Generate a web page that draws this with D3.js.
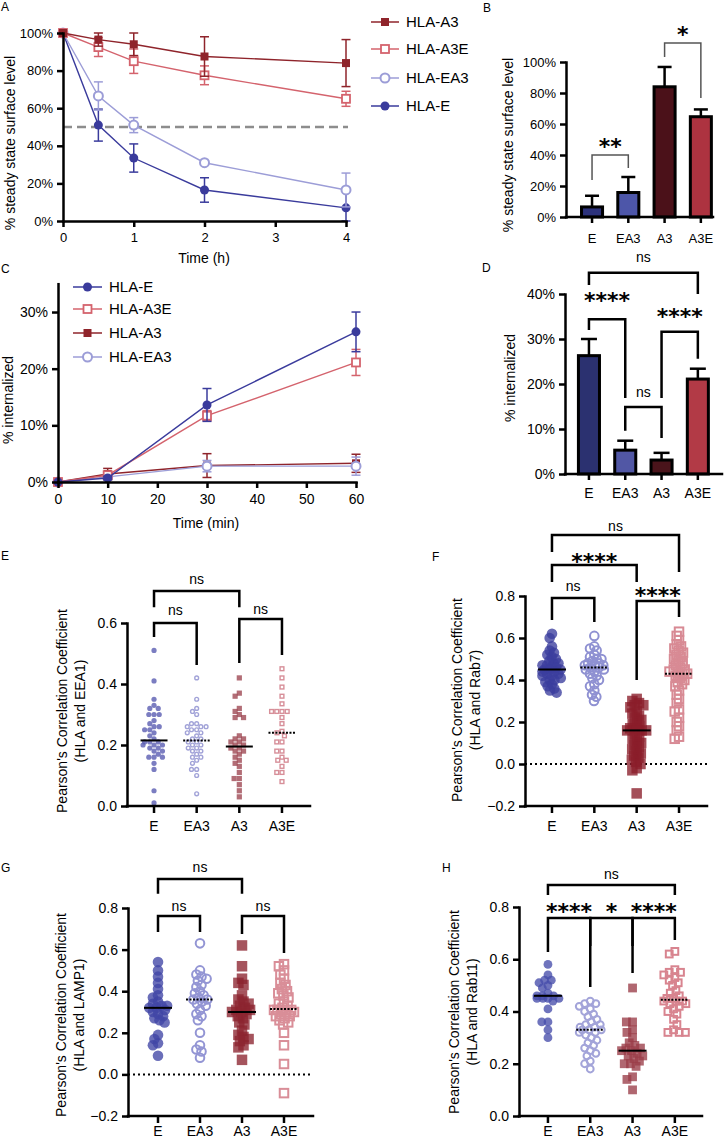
<!DOCTYPE html>
<html><head><meta charset="utf-8">
<script src="https://cdn.jsdelivr.net/npm/d3@7"></script>
<style>
body{margin:0;background:#fff}
svg{display:block;background:#fff}
</style>
</head><body>
<svg id="c" width="725" height="1142"></svg>
<script>
// ================= DATA =================
const groups = ["E", "EA3", "A3", "A3E"];

// Panel A: surface level over time (h)
const timeA = [0, 0.5, 1, 2, 4];
const surfA3 = [100, 96.5, 94, 87.5, 84];
const surfA3err = [0, 3.5, 6, 10.5, 12.5];
const surfA3E = [100, 92.5, 85, 77.5, 65];
const surfA3Eerr = [0, 5, 6.5, 5, 4];
const surfEA3 = [100, 66.5, 51, 31, 16.5];
const surfEA3err = [0, 7.5, 4, 1, 9];
const surfE = [100, 51, 33.5, 16.5, 7];
const surfEerr = [0, 8.5, 7.5, 6.5, 9.5];

// Panel B: steady state surface level at 4 h
const barB = [6.5, 15.8, 84, 64.7];
const barBerr = [7.2, 10, 12.8, 4.7];

// Panel C: % internalized over time (min)
const timeC = [0, 10, 30, 60];
const intE = [0, 0.7, 13.6, 26.5];
const intEerr = [0, 0.3, 2.9, 3.5];
const intA3E = [0, 1.2, 11.7, 21.1];
const intA3Eerr = [0, 0.5, 0.9, 2.3];
const intA3 = [0, 1.4, 2.9, 3.3];
const intA3err = [0, 1.0, 2.1, 1.6];
const intEA3 = [0, 0.9, 2.8, 2.8];
const intEA3err = [0, 0.4, 1.0, 1.6];

// Panel D: % internalized at 60 min
const barD = [26.3, 5.3, 3.1, 21.1];
const barDerr = [3.7, 2.1, 1.6, 2.3];

// Panel E: Pearson (HLA and EEA1)
const eea1_E = [0.51,0.41,0.35,0.33,0.32,0.32,0.30,0.30,0.30,0.28,0.27,0.26,0.26,0.25,0.25,0.24,0.23,0.22,0.21,0.21,0.21,0.20,0.20,0.20,0.19,0.19,0.18,0.18,0.17,0.16,0.16,0.16,0.14,0.12,0.05,0.01];
const eea1_EA3 = [0.42,0.35,0.32,0.31,0.30,0.27,0.27,0.26,0.26,0.26,0.25,0.25,0.24,0.24,0.23,0.22,0.22,0.21,0.21,0.20,0.20,0.19,0.19,0.18,0.18,0.17,0.16,0.16,0.15,0.14,0.12,0.12,0.10,0.04];
const eea1_A3 = [0.42,0.37,0.36,0.32,0.31,0.30,0.29,0.29,0.23,0.22,0.22,0.21,0.21,0.20,0.20,0.19,0.19,0.18,0.18,0.17,0.16,0.15,0.14,0.13,0.11,0.09,0.09,0.07,0.05,0.03];
const eea1_A3E = [0.45,0.42,0.39,0.36,0.335,0.31,0.31,0.31,0.31,0.29,0.27,0.245,0.24,0.23,0.21,0.21,0.18,0.18,0.16,0.15,0.15,0.13,0.11,0.11,0.08];

// Panel F: Pearson (HLA and Rab7)
const rab7_E = [0.62,0.60,0.56,0.54,0.53,0.52,0.51,0.50,0.49,0.48,0.48,0.47,0.47,0.46,0.46,0.45,0.45,0.45,0.44,0.44,0.43,0.43,0.42,0.42,0.41,0.40,0.40,0.39,0.38,0.37,0.36,0.35,0.34];
const rab7_EA3 = [0.61,0.56,0.55,0.54,0.52,0.51,0.50,0.50,0.49,0.48,0.48,0.47,0.47,0.47,0.46,0.46,0.45,0.45,0.44,0.43,0.42,0.41,0.40,0.38,0.37,0.35,0.33,0.32,0.30];
const rab7_A3 = [0.31,0.30,0.29,0.28,0.28,0.27,0.25,0.24,0.23,0.22,0.21,0.20,0.19,0.18,0.17,0.17,0.16,0.16,0.16,0.16,0.14,0.13,0.12,0.11,0.10,0.09,0.08,0.07,0.06,0.05,0.04,0.03,0.02,0.01,0.00,-0.02,-0.03,-0.14];
const rab7_A3E = [0.63,0.61,0.59,0.57,0.56,0.55,0.54,0.53,0.52,0.51,0.50,0.49,0.48,0.47,0.46,0.45,0.45,0.44,0.44,0.43,0.43,0.42,0.41,0.40,0.39,0.38,0.37,0.35,0.33,0.31,0.29,0.26,0.25,0.22,0.20,0.18,0.16,0.13,0.12];

// Panel G: Pearson (HLA and LAMP1)
const lamp1_E = [0.54,0.50,0.47,0.44,0.41,0.38,0.37,0.35,0.34,0.33,0.33,0.32,0.32,0.31,0.30,0.29,0.28,0.27,0.26,0.25,0.19,0.17,0.15,0.14,0.09];
const lamp1_EA3 = [0.63,0.50,0.48,0.47,0.46,0.45,0.43,0.42,0.40,0.39,0.38,0.37,0.36,0.36,0.35,0.34,0.33,0.31,0.29,0.28,0.26,0.20,0.14,0.12,0.11,0.08];
const lamp1_A3 = [0.62,0.52,0.46,0.44,0.43,0.38,0.36,0.35,0.34,0.33,0.32,0.31,0.31,0.30,0.30,0.29,0.28,0.27,0.25,0.24,0.21,0.19,0.18,0.17,0.16,0.14,0.13,0.07];
const lamp1_A3E = [0.53,0.52,0.50,0.48,0.46,0.44,0.43,0.41,0.40,0.39,0.38,0.37,0.35,0.34,0.33,0.32,0.31,0.31,0.31,0.30,0.30,0.29,0.28,0.28,0.27,0.26,0.25,0.24,0.20,0.14,0.05,-0.09];

// Panel H: Pearson (HLA and Rab11)
const rab11_E = [0.58,0.54,0.52,0.52,0.51,0.50,0.49,0.47,0.46,0.46,0.46,0.45,0.45,0.45,0.45,0.44,0.41,0.36,0.36,0.33,0.30];
const rab11_EA3 = [0.44,0.43,0.43,0.42,0.41,0.40,0.39,0.38,0.37,0.36,0.35,0.35,0.34,0.34,0.33,0.33,0.33,0.32,0.32,0.31,0.30,0.29,0.28,0.27,0.26,0.25,0.24,0.23,0.21,0.20,0.18];
const rab11_A3 = [0.49,0.36,0.36,0.33,0.32,0.30,0.28,0.27,0.26,0.26,0.25,0.25,0.24,0.23,0.23,0.22,0.21,0.20,0.20,0.19,0.15,0.14,0.10];
const rab11_A3E = [0.63,0.62,0.56,0.55,0.55,0.54,0.53,0.52,0.51,0.50,0.48,0.47,0.46,0.45,0.45,0.44,0.44,0.44,0.43,0.43,0.42,0.41,0.40,0.39,0.37,0.35,0.33,0.32,0.32,0.32];

// Significance annotations (pairs, bracket levels in data units, label)
const sigB = [
  {a:"E", b:"EA3", h:40, la:23.9, lb:31.6, label:"**", ly:48.4},
  {a:"A3", b:"A3E", h:112.3, la:103.2, lb:76.8, label:"*", ly:120.6}
];
const sigD = [
  {a:"E", b:"A3E", h:44.7, la:42, lb:40, label:"ns", ly:48},
  {a:"E", b:"EA3", h:34.4, la:32, lb:16.9, label:"****", ly:39.6},
  {a:"EA3", b:"A3", h:14.9, la:9.6, lb:8.0, label:"ns", ly:18},
  {a:"A3", b:"A3E", h:31.6, la:16.9, lb:25.6, label:"****", ly:36}
];
const sigE = [
  {a:"E", b:"A3", h:0.705, la:0.652, lb:0.652, label:"ns", ly:0.741},
  {a:"E", b:"EA3", h:0.6, la:0.554, lb:0.462, label:"ns", ly:0.639},
  {a:"A3", b:"A3E", h:0.613, la:0.469, lb:0.495, label:"ns", ly:0.643}
];
const sigF = [
  {a:"E", b:"A3E", h:1.09, la:1.01, lb:0.914, label:"ns", ly:1.129},
  {a:"E", b:"A3", h:0.948, la:0.867, lb:0.867, label:"****", ly:0.986},
  {a:"E", b:"EA3", h:0.79, la:0.686, lb:0.676, label:"ns", ly:0.843},
  {a:"A3", b:"A3E", h:0.776, la:0.4, lb:0.7, label:"****", ly:0.824}
];
const sigG = [
  {a:"E", b:"A3", h:0.94, la:0.868, lb:0.868, label:"ns", ly:0.992},
  {a:"E", b:"EA3", h:0.762, la:0.685, lb:0.685, label:"ns", ly:0.805},
  {a:"A3", b:"A3E", h:0.762, la:0.675, lb:0.584, label:"ns", ly:0.805}
];
const sigH = [
  {a:"E", b:"A3E", h:0.884, la:0.846, lb:0.846, label:"ns", ly:0.922},
  {a:"E", b:"EA3", h:0.758, la:0.628, lb:0.494, label:"****", ly:0.8},
  {a:"EA3", b:"A3", h:0.758, la:0.651, lb:0.651, label:"*", ly:0.8},
  {a:"A3", b:"A3E", h:0.758, la:0.547, lb:0.674, label:"****", ly:0.8}
];

// ================= DRAWING =================
const FONT = '"Liberation Sans", Arial, Helvetica, sans-serif';
const STARFONT = '"DejaVu Sans", sans-serif';
const svg = d3.select("#c");

function axisLeft(y, ticks, fmt, x0, fs, sw, tl, pad) {
  const ax = svg.append("g").attr("transform", `translate(${x0},0)`)
    .call(d3.axisLeft(y).tickValues(ticks).tickFormat(fmt).tickSize(tl).tickSizeOuter(0).tickPadding(pad));
  ax.attr("font-size", fs).attr("font-family", FONT);
  ax.select(".domain").attr("stroke", "#000").attr("stroke-width", sw).attr("stroke-linecap", "square");
  ax.selectAll(".tick line").attr("stroke", "#000").attr("stroke-width", sw);
  ax.selectAll(".tick text").attr("fill", "#000");
  return ax;
}
function axisBottomLinear(x, ticks, y0, fs, sw, tl, pad) {
  const ax = svg.append("g").attr("transform", `translate(0,${y0})`)
    .call(d3.axisBottom(x).tickValues(ticks).tickFormat(d3.format("d")).tickSize(tl).tickSizeOuter(0).tickPadding(pad));
  ax.attr("font-size", fs).attr("font-family", FONT);
  ax.select(".domain").attr("stroke", "#000").attr("stroke-width", sw).attr("stroke-linecap", "square");
  ax.selectAll(".tick line").attr("stroke", "#000").attr("stroke-width", sw);
  ax.selectAll(".tick text").attr("fill", "#000");
  return ax;
}
function axisBottomBand(x, y0, x0, x1, fs, sw, tl, pad) {
  const ax = svg.append("g").attr("transform", `translate(0,${y0})`)
    .call(d3.axisBottom(x).tickSize(tl).tickPadding(pad));
  ax.attr("font-size", fs).attr("font-family", FONT);
  ax.select(".domain").remove();
  ax.selectAll(".tick line").attr("stroke", "#000").attr("stroke-width", sw);
  ax.selectAll(".tick text").attr("fill", "#000");
  svg.append("line").attr("x1", x0).attr("x2", x1).attr("y1", y0).attr("y2", y0)
    .attr("stroke", "#000").attr("stroke-width", sw).attr("stroke-linecap", "square");
}
function text(x, y, s, fs, opts = {}) {
  const t = svg.append("text").attr("x", x).attr("y", y).text(s)
    .attr("font-size", fs).attr("font-family", opts.font || FONT).attr("fill", "#000")
    .attr("text-anchor", opts.anchor || "start");
  if (opts.bold) t.attr("font-weight", "bold");
  if (opts.rot) t.attr("transform", `rotate(-90,${x},${y})`);
  return t;
}
function marker(g, cx, cy, m) {
  if (m.shape === "circle") {
    g.append("circle").attr("cx", cx).attr("cy", cy).attr("r", m.size / 2)
      .attr("fill", m.filled ? m.color : (m.bg || "none"))
      .attr("fill-opacity", m.filled ? (m.op || 1) : 1)
      .attr("stroke", m.filled ? "none" : m.color).attr("stroke-width", m.sw || 1.5);
  } else {
    g.append("rect").attr("x", cx - m.size / 2).attr("y", cy - m.size / 2)
      .attr("width", m.size).attr("height", m.size)
      .attr("fill", m.filled ? m.color : (m.bg || "none"))
      .attr("fill-opacity", m.filled ? (m.op || 1) : 1)
      .attr("stroke", m.filled ? "none" : m.color).attr("stroke-width", m.sw || 1.5);
  }
}

// ---------- line panels ----------
function linePanel(o) {
  const x = d3.scaleLinear(o.xDom, o.xRange);
  const y = d3.scaleLinear(o.yDom, o.yRange);
  if (o.refLine !== undefined) {
    svg.append("line").attr("x1", o.xRange[0]).attr("x2", o.xRange[1] + 2)
      .attr("y1", y(o.refLine)).attr("y2", y(o.refLine))
      .attr("stroke", "#8d8d8d").attr("stroke-width", 2.5).attr("stroke-dasharray", "9,5");
  }
  const g = svg.append("g");
  o.series.forEach(s => {
    const pts = o.times.map((t, i) => ({t, v: s.vals[i], e: s.err[i]}));
    const sg = g.append("g");
    pts.forEach(p => {
      if (p.e > 0) {
        const lo = y(Math.max(o.yDom[0], p.v - p.e)), hi = y(p.v + p.e), cx = x(p.t);
        sg.append("line").attr("x1", cx).attr("x2", cx).attr("y1", lo).attr("y2", hi)
          .attr("stroke", s.m.color).attr("stroke-width", 1.5);
        [lo, hi].forEach(yy => sg.append("line").attr("x1", cx - o.cap / 2).attr("x2", cx + o.cap / 2)
          .attr("y1", yy).attr("y2", yy).attr("stroke", s.m.color).attr("stroke-width", 1.5));
      }
    });
    sg.append("path").datum(pts).attr("fill", "none").attr("stroke", s.m.color).attr("stroke-width", 1.4)
      .attr("d", d3.line().x(d => x(d.t)).y(d => y(d.v)));
    pts.forEach(p => marker(sg, x(p.t), y(p.v), s.m));
  });
  axisLeft(y, o.yTicks, d => d + "%", o.xRange[0], o.tfs, 2.5, 6, 4);
  axisBottomLinear(x, o.xTicks, o.yRange[0], o.tfs, 2.5, 6, o.xpad);
  // legend
  o.legend.forEach((s, i) => {
    const ly = o.legY[i];
    svg.append("line").attr("x1", o.legX).attr("x2", o.legX + o.legW).attr("y1", ly).attr("y2", ly)
      .attr("stroke", s.m.color).attr("stroke-width", 1.5);
    marker(svg, o.legX + o.legW / 2, ly, s.m);
    text(o.legX + o.legW + 7, ly + o.lfs * 0.36, s.name, o.lfs);
  });
}

const mA3 = {shape: "square", filled: true, color: "#8f242b", size: 8};
const mA3E = {shape: "square", filled: false, color: "#d4636d", size: 8, sw: 1.8, bg: "#fff"};
const mEA3 = {shape: "circle", filled: false, color: "#9c9dd7", size: 9, sw: 2, bg: "#fff"};
const mE = {shape: "circle", filled: true, color: "#3a3b9c", size: 9};

linePanel({
  times: timeA, xDom: [0, 4], xRange: [63, 346], yDom: [0, 100], yRange: [221, 33],
  yTicks: [0, 20, 40, 60, 80, 100], xTicks: [0, 1, 2, 3, 4], tfs: 13, xpad: 6, cap: 9, refLine: 50,
  series: [
    {name: "HLA-E", vals: surfE, err: surfEerr, m: mE},
    {name: "HLA-EA3", vals: surfEA3, err: surfEA3err, m: mEA3},
    {name: "HLA-A3E", vals: surfA3E, err: surfA3Eerr, m: mA3E},
    {name: "HLA-A3", vals: surfA3, err: surfA3err, m: mA3}
  ],
  legend: [
    {name: "HLA-A3", m: mA3}, {name: "HLA-A3E", m: mA3E},
    {name: "HLA-EA3", m: mEA3}, {name: "HLA-E", m: mE}
  ],
  legX: 371, legW: 28, legY: [22, 49, 78, 106], lfs: 15
});
text(204, 263, "Time (h)", 14, {anchor: "middle"});
text(15, 143, "% steady state surface level", 14, {anchor: "middle", rot: true});

linePanel({
  times: timeC, xDom: [0, 60], xRange: [58, 356], yDom: [0, 35], yRange: [482, 283.7],
  yTicks: [0, 10, 20, 30], xTicks: [0, 10, 20, 30, 40, 50, 60], tfs: 14, xpad: 6, cap: 9,
  series: [
    {name: "HLA-A3", vals: intA3, err: intA3err, m: mA3},
    {name: "HLA-EA3", vals: intEA3, err: intEA3err, m: mEA3},
    {name: "HLA-A3E", vals: intA3E, err: intA3Eerr, m: mA3E},
    {name: "HLA-E", vals: intE, err: intEerr, m: mE}
  ],
  legend: [
    {name: "HLA-E", m: mE}, {name: "HLA-A3E", m: mA3E},
    {name: "HLA-A3", m: mA3}, {name: "HLA-EA3", m: mEA3}
  ],
  legX: 73, legW: 29, legY: [287, 309, 333, 357], lfs: 15
});
text(206, 528, "Time (min)", 14, {anchor: "middle"});
text(13, 400, "% internalized", 14, {anchor: "middle", rot: true});

// ---------- significance brackets ----------
function brackets(list, xc, y, st) {
  list.forEach(b => {
    const xa = xc(b.a), xb = xc(b.b);
    svg.append("path").attr("fill", "none").attr("stroke", st.color).attr("stroke-width", st.sw)
      .attr("stroke-linejoin", "miter")
      .attr("d", `M${xa},${y(b.la)}V${y(b.h)}H${xb}V${y(b.lb)}`);
    const mx = (xa + xb) / 2, my = y(b.ly);
    if (b.label === "ns") {
      text(mx, my + st.nsfs * 0.27, "ns", st.nsfs, {anchor: "middle"});
    } else {
      text(mx, my + st.starfs * 0.56, b.label, st.starfs, {anchor: "middle", bold: true, font: STARFONT});
    }
  });
}

// ---------- bar panels ----------
function barPanel(o) {
  const x = d3.scaleBand(groups, o.band).paddingInner(0.42).paddingOuter(0.21);
  const y = d3.scaleLinear(o.yDom, o.yRange);
  const xc = d => x(d) + x.bandwidth() / 2;
  const g = svg.append("g");
  groups.forEach((k, i) => {
    const cx = xc(k), top = y(o.vals[i] + o.err[i]);
    g.append("line").attr("x1", cx).attr("x2", cx).attr("y1", y(o.vals[i])).attr("y2", top)
      .attr("stroke", "#000").attr("stroke-width", 2.5);
    g.append("line").attr("x1", cx - o.cap / 2).attr("x2", cx + o.cap / 2).attr("y1", top).attr("y2", top)
      .attr("stroke", "#000").attr("stroke-width", 2.5);
    g.append("rect").attr("x", x(k)).attr("y", y(o.vals[i])).attr("width", x.bandwidth())
      .attr("height", y(0) - y(o.vals[i])).attr("fill", o.colors[i])
      .attr("stroke", "#000").attr("stroke-width", 3);
  });
  axisLeft(y, o.yTicks, d => d + "%", o.axisX, o.tfs, 2.5, 6, 4);
  axisBottomBand(x, o.yRange[0], o.axisX, o.axisEnd, o.tfs, 2.5, 6, o.xpad);
  brackets(o.sig, xc, y, o.st);
}

barPanel({
  band: [573.9, 719], yDom: [0, 100], yRange: [217, 62], vals: barB, err: barBerr,
  colors: ["#2c327c", "#4d56a9", "#4b1119", "#ad3340"], axisX: 566, axisEnd: 713,
  yTicks: [0, 20, 40, 60, 80, 100], tfs: 13, xpad: 11, cap: 14, sig: sigB,
  st: {color: "#555", sw: 1.5, nsfs: 13, starfs: 22}
});
text(513, 145, "% steady state surface level", 14, {anchor: "middle", rot: true});

barPanel({
  band: [570.8, 716], yDom: [0, 40], yRange: [474, 294], vals: barD, err: barDerr,
  colors: ["#2b3170", "#5157a5", "#4a141b", "#b23a46"], axisX: 565, axisEnd: 722,
  yTicks: [0, 10, 20, 30, 40], tfs: 14, xpad: 8, cap: 16, sig: sigD,
  st: {color: "#000", sw: 2.5, nsfs: 14, starfs: 22}
});
text(515, 378, "% internalized", 14, {anchor: "middle", rot: true});

// ---------- scatter panels ----------
function swarm(vals, y, sep, maxHalf) {
  const pts = vals.map(v => ({v, py: y(v)})).sort((a, b) => a.py - b.py);
  const placed = [];
  pts.forEach(p => {
    const cands = [0];
    placed.forEach(q => {
      const dy = Math.abs(q.py - p.py);
      if (dy < sep) { const dx = Math.sqrt(sep * sep - dy * dy); cands.push(q.dx + dx, q.dx - dx); }
    });
    cands.sort((a, b) => Math.abs(a) - Math.abs(b) || a - b);
    let best = null;
    for (const c of cands) {
      if (Math.abs(c) > maxHalf + 1e-6) continue;
      if (placed.every(q => (q.dx - c) ** 2 + (q.py - p.py) ** 2 >= sep * sep - 1e-3)) { best = c; break; }
    }
    if (best === null) {
      let bestScore = Infinity;
      for (let c = -maxHalf; c <= maxHalf; c += 1) {
        const s = d3.sum(placed, q => Math.max(0, sep - Math.hypot(q.dx - c, q.py - p.py)));
        if (s < bestScore) { bestScore = s; best = c; }
      }
    }
    p.dx = best;
    placed.push(p);
  });
  return placed;
}

function scatterPanel(o) {
  const x = d3.scaleBand(groups, o.band).paddingInner(0).paddingOuter(0);
  const xc = d => x(d) + x.bandwidth() / 2;
  const y = d3.scaleLinear(o.yDom, o.yRange);
  if (o.zero) {
    svg.append("line").attr("x1", o.axisX).attr("x2", o.axisEnd).attr("y1", y(0)).attr("y2", y(0))
      .attr("stroke", "#000").attr("stroke-width", 2).attr("stroke-dasharray", "2,3");
  }
  groups.forEach((k, i) => {
    const g = svg.append("g");
    const pts = swarm(o.data[i], y, o.sep, o.maxHalf);
    pts.forEach(p => marker(g, xc(k) + p.dx, p.py, o.marks[i]));
    const med = d3.median(o.data[i]);
    svg.append("line").attr("x1", xc(k) - o.medW / 2).attr("x2", xc(k) + o.medW / 2)
      .attr("y1", y(med)).attr("y2", y(med)).attr("stroke", "#000").attr("stroke-width", 2)
      .attr("stroke-dasharray", o.marks[i].filled ? null : "2,1.5");
  });
  axisLeft(y, o.yTicks, d3.format(".1f"), o.axisX, 14, 2.5, 6, 4);
  axisBottomBand(x, o.yRange[0], o.axisX, o.axisEnd, 14, 2.5, 7, o.xpad);
  brackets(o.sig, xc, y, {color: "#000", sw: 2.5, nsfs: 14, starfs: 22});
  text(o.titleX, o.titleY, "Pearson's Correlation Coefficient", 14, {anchor: "middle", rot: true});
  text(o.titleX + 18, o.titleY, o.title2, 14, {anchor: "middle", rot: true});
}

function marks(r, sq, sw, cE, cEA3, cA3, cA3E) {
  return [
    {shape: "circle", filled: true, color: cE, size: 2 * r, op: 0.78},
    {shape: "circle", filled: false, color: cEA3, size: 2 * r - sw, sw: sw},
    {shape: "square", filled: true, color: cA3, size: sq, op: 0.78},
    {shape: "square", filled: false, color: cA3E, size: sq - sw, sw: sw}
  ];
}

scatterPanel({
  band: [132.7, 303.3], yDom: [0, 0.6], yRange: [806, 623], yTicks: [0, 0.2, 0.4, 0.6],
  axisX: 127, axisEnd: 310, data: [eea1_E, eea1_EA3, eea1_A3, eea1_A3E],
  marks: marks(2.6, 5.2, 1.4, "#5658b0", "#a2a3d8", "#9c4450", "#d78f99"),
  sep: 5.2, maxHalf: 11, medW: 27, xpad: 8, sig: sigE, zero: false,
  titleX: 67, titleY: 711, title2: "(HLA and EEA1)"
});
scatterPanel({
  band: [530.8, 700.2], yDom: [-0.2, 0.8], yRange: [806, 596], yTicks: [-0.2, 0, 0.2, 0.4, 0.6, 0.8],
  axisX: 525, axisEnd: 707, data: [rab7_E, rab7_EA3, rab7_A3, rab7_A3E],
  marks: marks(5.3, 10.5, 2, "#3b3d9e", "#8f91d2", "#8a1e2a", "#d88a94"),
  sep: 4.8, maxHalf: 9.5, medW: 28, xpad: 8, sig: sigF, zero: true,
  titleX: 462, titleY: 700, title2: "(HLA and Rab7)"
});
scatterPanel({
  band: [137, 305], yDom: [-0.2, 0.8], yRange: [1116, 908], yTicks: [-0.2, 0, 0.2, 0.4, 0.6, 0.8],
  axisX: 128, axisEnd: 313, data: [lamp1_E, lamp1_EA3, lamp1_A3, lamp1_A3E],
  marks: marks(5.3, 10.5, 2, "#4045a5", "#9395d4", "#8c2430", "#d98e98"),
  sep: 5.5, maxHalf: 10, medW: 28, xpad: 3, sig: sigG, zero: true,
  titleX: 66, titleY: 1015, title2: "(HLA and LAMP1)"
});
scatterPanel({
  band: [526.8, 696], yDom: [0, 0.8], yRange: [1116, 907], yTicks: [0, 0.2, 0.4, 0.6, 0.8],
  axisX: 519, axisEnd: 702, data: [rab11_E, rab11_EA3, rab11_A3, rab11_A3E],
  marks: marks(4.4, 8.8, 2, "#474dab", "#a3a4d9", "#9a3c48", "#d8848f"),
  sep: 6.2, maxHalf: 11, medW: 28, xpad: 3, sig: sigH, zero: false,
  titleX: 459, titleY: 1012, title2: "(HLA and Rab11)"
});

// ---------- panel letters ----------
[["A", 1, 11], ["B", 483, 12], ["C", 1, 273], ["D", 482, 272],
 ["E", 1, 560], ["F", 432, 561], ["G", 1, 872], ["H", 442, 872]]
  .forEach(([s, x, y]) => text(x, y, s, 12));
</script>
</body></html>
